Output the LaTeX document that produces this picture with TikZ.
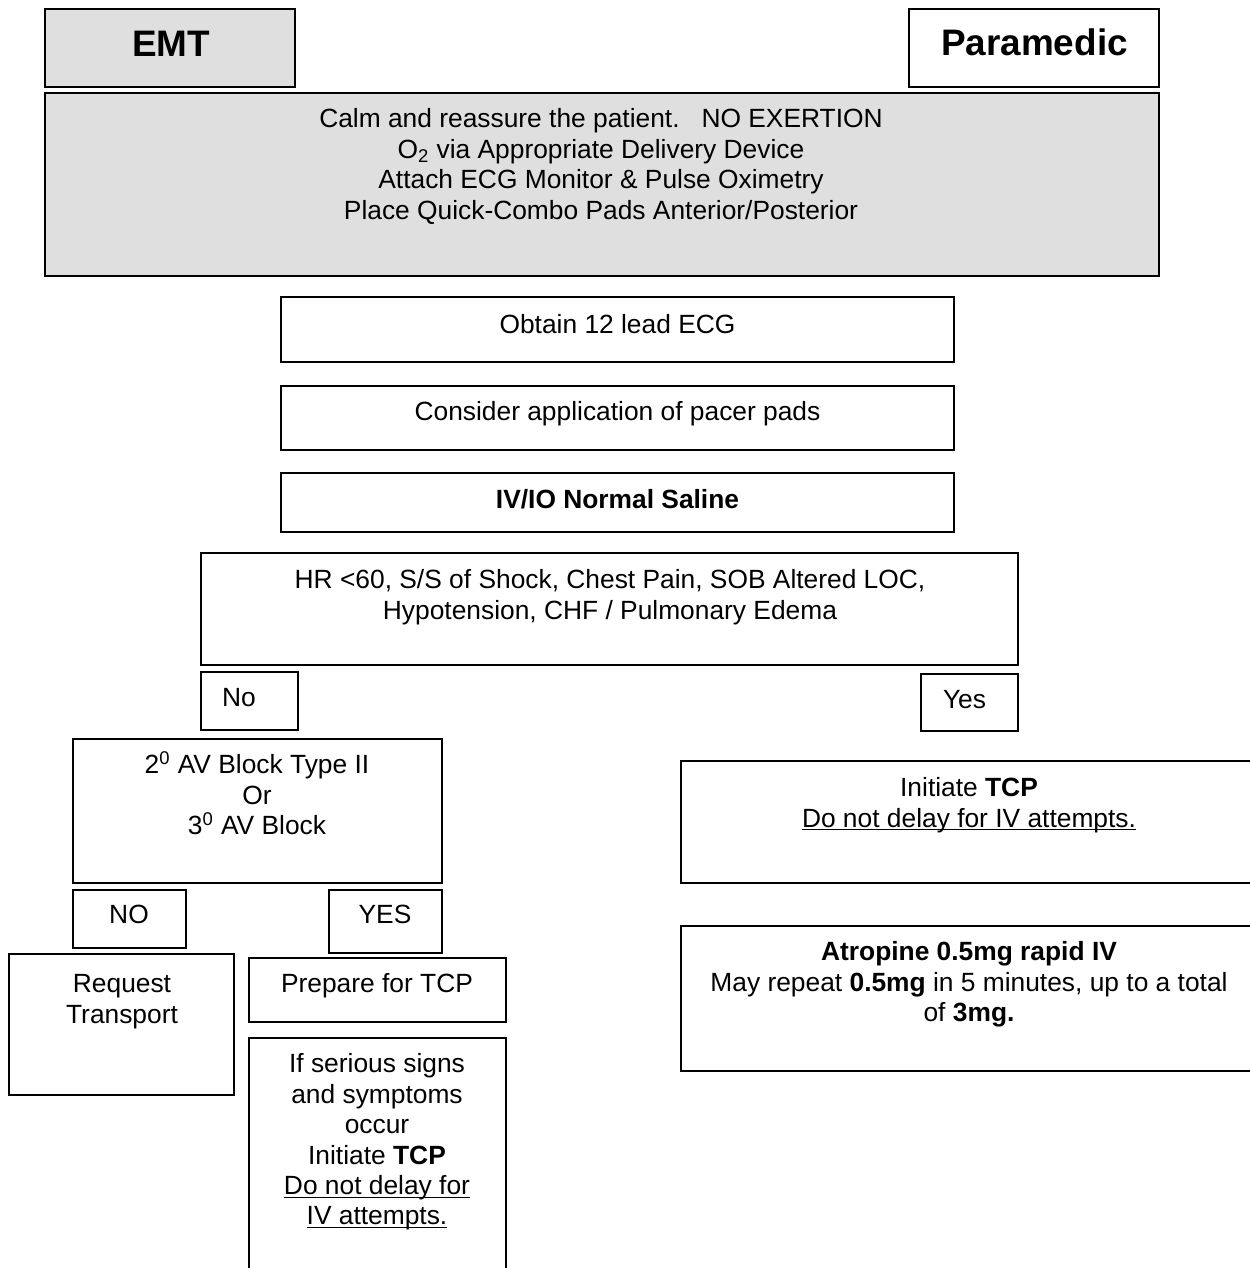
\documentclass[tikz,border=0pt]{standalone}
\usepackage{fontspec}
\setmainfont{Liberation Sans}
\usetikzlibrary{fit}
\definecolor{boxgray}{RGB}{223,223,223}
\newcommand\myul[1]{\underline{\vphantom{A}\smash{#1}}}
\begin{document}
\begin{tikzpicture}[x=0.02cm,y=-0.02cm,
  box/.style={draw=black, line width=1.1pt, inner sep=0pt, rectangle},
  gbox/.style={box, fill=boxgray},
  txt/.style={inner sep=0pt, outer sep=0pt, align=center, anchor=north, font=\fontsize{15}{17.3}\selectfont},
  head/.style={inner sep=0pt, outer sep=0pt, align=center, anchor=north, font=\fontsize{21}{25}\selectfont\bfseries}]
\useasboundingbox (0,0) rectangle (1250,1268);
\fill[white] (0,0) rectangle (1250,1268);
\clip (0,0) rectangle (1250,1268);
% boxes
\node[gbox, fit={(45,9) (295,87)}] (emt) {};
\node[box, fit={(909,9) (1159,87)}] (para) {};
\node[gbox, fit={(45,93) (1159,276)}] (gen) {};
\node[box, fit={(281,297) (954,362)}] (ecg) {};
\node[box, fit={(281,386) (954,450)}] (pacer) {};
\node[box, fit={(281,473) (954,532)}] (ivio) {};
\node[box, fit={(201,553) (1018,665)}] (hr) {};
\node[box, fit={(201,672) (298,730)}] (no) {};
\node[box, fit={(921,674) (1018,731)}] (yes) {};
\node[box, fit={(73,739) (442,883)}] (av) {};
\node[box, fit={(73,890) (186,948)}] (avno) {};
\node[box, fit={(329,890) (442,953)}] (avyes) {};
\node[box, fit={(9,954) (234,1095)}] (req) {};
\node[box, fit={(249,958) (506,1022)}] (prep) {};
\node[box, fit={(249,1038) (506,1290)}] (ser) {};
\node[box, fit={(681,761) (1262,883)}] (init) {};
\node[box, fit={(681,926) (1262,1071)}] (atro) {};
% texts (top = first baseline - strut height)
\node[head] (temt) at (171,26.1) {\strut EMT};
\node[head] (tpara) at (1034.5,25.1) {\strut Paramedic};
\node[txt] (tgen) at (601,106.7) {\strut Calm and reassure the patient.\ \ \ NO EXERTION\\
O\textsubscript{2} via Appropriate Delivery Device\\
Attach ECG Monitor \& Pulse Oximetry\\
Place Quick-Combo Pads Anterior/Posterior};
\node[txt] (tecg) at (617.5,312.7) {\strut Obtain 12 lead ECG};
\node[txt] (tpacer) at (617.5,399.7) {\strut Consider application of pacer pads};
\node[txt] (tivio) at (617.5,487.7) {\strut\textbf{IV/IO Normal Saline}};
\node[txt] (thr) at (610,567.7) {\strut HR {<}60, S/S of Shock, Chest Pain, SOB Altered LOC,\\
Hypotension, CHF / Pulmonary Edema};
\node[txt] (tno) at (239,685.7) {\strut No};
\node[txt] (tyes) at (964.5,687.7) {\strut Yes};
\node[txt] (tav) at (257,751.7) {\strut 2\textsuperscript{0} AV Block Type II\\ Or\\ 3\textsuperscript{0} AV Block};
\node[txt] (tavno) at (129,902.7) {\strut NO};
\node[txt] (tavyes) at (385,902.7) {\strut YES};
\node[txt] (treq) at (122,971.7) {\strut Request\\ Transport};
\node[txt] (tprep) at (377,971.7) {\strut Prepare for TCP};
\node[txt] (tser) at (377,1051.7) {\strut If serious signs\\ and symptoms\\ occur\\ Initiate \textbf{TCP}\\ \myul{Do not delay for}\\ \myul{IV attempts.}};
\node[txt] (tinit) at (969,775.7) {\strut Initiate \textbf{TCP}\\ \myul{Do not delay for IV attempts.}};
\node[txt] (tatro) at (969,939.7) {\strut\textbf{Atropine 0.5mg rapid IV}\\
May repeat \textbf{0.5mg} in 5 minutes, up to a total\\
of \textbf{3mg.}};
\end{tikzpicture}
\end{document}
